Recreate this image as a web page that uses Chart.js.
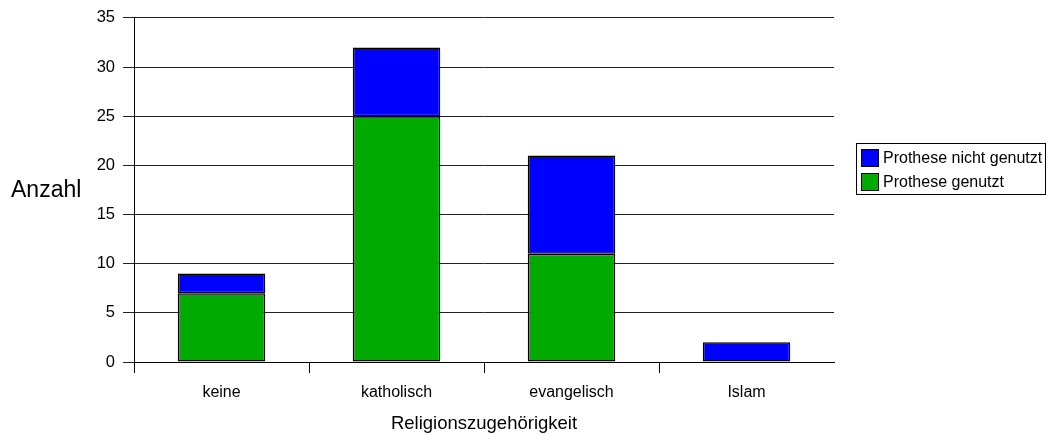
<!DOCTYPE html>
<html>
<head>
<meta charset="utf-8">
<script src="https://cdn.jsdelivr.net/npm/chart.js@4"></script>
<style>
  html, body { margin: 0; padding: 0; background: #fff; }
  #wrap { width: 1049px; height: 435px; position: relative; }
</style>
</head>
<body>
<div id="wrap"><canvas id="c" width="1049" height="435"></canvas></div>
<script>
const categories = ['keine', 'katholisch', 'evangelisch', 'Islam'];
const genutzt = [7, 25, 11, 0];
const nichtGenutzt = [2, 7, 10, 2];
const seriesNames = ['Prothese genutzt', 'Prothese nicht genutzt'];
const yTicks = [0, 5, 10, 15, 20, 25, 30, 35];
const xTitle = 'Religionszugehörigkeit';
const yTitle = 'Anzahl';

const FONT = "'Liberation Sans', Arial, sans-serif";

const sideTitle = {
  id: 'sideTitle',
  afterDraw(chart) {
    const ctx = chart.ctx;
    ctx.save();
    ctx.fillStyle = '#000';
    ctx.font = '23px ' + FONT;
    ctx.textAlign = 'left';
    ctx.textBaseline = 'middle';
    ctx.fillText(yTitle, 11, 191);
    ctx.restore();
  }
};

const boxLegend = {
  id: 'boxLegend',
  afterDraw(chart) {
    const ctx = chart.ctx;
    const x = 856.5, y = 143.5, w = 189, h = 51;
    ctx.save();
    ctx.fillStyle = '#fff';
    ctx.fillRect(x, y, w, h);
    ctx.strokeStyle = '#000';
    ctx.lineWidth = 1;
    ctx.strokeRect(x, y, w, h);
    const items = chart.data.datasets.map((d) => ({label: d.label, color: d.backgroundColor})).reverse();
    ctx.font = '16px ' + FONT;
    ctx.textBaseline = 'middle';
    ctx.textAlign = 'left';
    items.forEach((it, i) => {
      const cy = 158 + i * 24;
      ctx.fillStyle = it.color;
      ctx.fillRect(861.5, cy - 8.5, 17, 17);
      ctx.strokeStyle = '#000';
      ctx.strokeRect(861.5, cy - 8.5, 17, 17);
      ctx.fillStyle = '#000';
      ctx.fillText(it.label, 883, cy + 1);
    });
    ctx.restore();
  }
};

new Chart(document.getElementById('c'), {
  type: 'bar',
  data: {
    labels: categories,
    datasets: [
      { label: seriesNames[0], data: genutzt, backgroundColor: '#00AA00', borderColor: '#000', borderWidth: 1.5, borderSkipped: false, inflateAmount: 0 },
      { label: seriesNames[1], data: nichtGenutzt, backgroundColor: '#0000FF', borderColor: '#000', borderWidth: 1.5, borderSkipped: false, inflateAmount: 0 }
    ]
  },
  options: {
    responsive: false,
    animation: false,
    layout: { padding: { left: 0, top: 17, right: 215, bottom: 0 } },
    datasets: { bar: { barPercentage: 1, categoryPercentage: 0.5 } },
    plugins: { legend: { display: false }, tooltip: { enabled: false } },
    scales: {
      x: {
        stacked: true,
        offset: true,
        afterFit(s) { s.height = 73; },
        grid: {
          offset: true,
          drawOnChartArea: false,
          drawTicks: true,
          tickLength: 11,
          color: (c) => c.tick ? '#000' : 'rgba(0,0,0,0)',
          lineWidth: 1
        },
        border: { display: true, color: '#000', width: 1 },
        ticks: { color: '#000', font: { family: FONT, size: 16 }, padding: 10 },
        title: { display: true, text: xTitle, color: '#000', font: { family: FONT, size: 18.5 }, padding: { top: 4, bottom: 0 } }
      },
      y: {
        stacked: true,
        min: 0,
        max: 35,
        afterFit(s) { s.width = 134; },
        afterBuildTicks(s) { s.ticks = yTicks.map(v => ({ value: v })); },
        grid: { color: '#222', lineWidth: 1, tickLength: 11, drawTicks: true },
        border: { display: true, color: '#000', width: 1 },
        ticks: { color: '#000', font: { family: FONT, size: 16.5 }, padding: 8 }
      }
    }
  },
  plugins: [sideTitle, boxLegend]
});
</script>
</body>
</html>
